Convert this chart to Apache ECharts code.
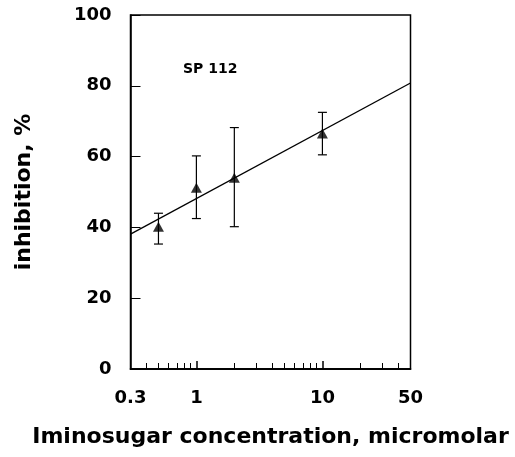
<!DOCTYPE html>
<html><head><meta charset="utf-8">
<script src="https://cdn.jsdelivr.net/npm/echarts@6/dist/echarts.min.js"></script>
<style>html,body{margin:0;padding:0;background:#fff}#c{width:515px;height:457px}</style>
</head><body><div id="c"></div>
<script>
// data
const concentrations = [0.5, 1, 2, 10];
const inhibitionMean = [40.2, 51.2, 54, 66.5];
const inhibitionLow = [35.3, 42.5, 40.2, 60.5];
const inhibitionHigh = [44, 60.2, 68.2, 72.5];
const fitLineX = [0.3, 50];
const fitLineY = [38.1, 80.8];
const xTickLabels = [0.3, 1, 10, 50];
const xMajorTicks = [1, 10];
const xMinorTicks = [0.4, 0.5, 0.6, 0.7, 0.8, 0.9, 2, 3, 4, 5, 6, 7, 8, 9, 20, 30, 40];
const annotation = 'SP 112';

const FONT = 'DejaVu Sans';
const chart = echarts.init(document.getElementById('c'), null, {renderer: 'canvas'});

const points = concentrations.map((x, i) => [x, inhibitionMean[i]]);
const errData = concentrations.map((x, i) => [x, inhibitionLow[i], inhibitionHigh[i]]);
const fitData = fitLineX.map((x, i) => [x, fitLineY[i]]);

const baseX = {
  type: 'log', logBase: 10, min: 0.3, max: 50,
  splitLine: {show: false},
  axisLine: {show: true, lineStyle: {color: '#000', width: 1.5}},
};

chart.setOption({
  animation: false,
  backgroundColor: '#fff',
  grid: {left: 130.5, right: 104.5, top: 15, bottom: 88, show: true, borderColor: '#000', borderWidth: 1.5, backgroundColor: 'transparent', containLabel: false},
  xAxis: [
    Object.assign({}, baseX, {
      name: 'Iminosugar concentration, micromolar',
      nameLocation: 'middle', nameGap: 57,
      nameTextStyle: {fontFamily: FONT, fontWeight: 'bold', fontSize: 22, color: '#000'},
      axisTick: {show: true, inside: true, length: 6, customValues: xMinorTicks, lineStyle: {color: '#000', width: 1}},
      axisLabel: {show: true, customValues: xTickLabels, margin: 20, fontFamily: FONT, fontWeight: 'bold', fontSize: 18, color: '#000',
        formatter: v => String(v)}
    }),
    Object.assign({}, baseX, {
      position: 'bottom',
      axisTick: {show: true, inside: true, length: 8, customValues: xMajorTicks, lineStyle: {color: '#000', width: 1.5}},
      axisLabel: {show: false}
    })
  ],
  yAxis: {
    type: 'value', min: 0, max: 100, interval: 20,
    name: 'inhibition, %', nameLocation: 'middle', nameGap: 95, nameRotate: 90,
    nameTextStyle: {fontFamily: FONT, fontWeight: 'bold', fontSize: 22, color: '#000'},
    splitLine: {show: false},
    axisLine: {show: true, lineStyle: {color: '#000', width: 1.5}},
    axisTick: {show: true, inside: true, length: 10, lineStyle: {color: '#000', width: 1}},
    axisLabel: {margin: 19, fontFamily: FONT, fontWeight: 'bold', fontSize: 18, color: '#000'}
  },
  series: [
    {
      type: 'line', data: fitData, symbol: 'none', silent: true,
      lineStyle: {color: '#000', width: 1.3}, z: 2
    },
    {
      type: 'custom', data: errData, z: 3,
      renderItem: function (params, api) {
        const x = api.value(0);
        const lo = api.coord([x, api.value(1)]);
        const hi = api.coord([x, api.value(2)]);
        const w = 4.5;
        const style = {stroke: '#000', lineWidth: 1.2, fill: null};
        return {type: 'group', children: [
          {type: 'line', shape: {x1: lo[0], y1: lo[1], x2: hi[0], y2: hi[1]}, style},
          {type: 'line', shape: {x1: lo[0] - w, y1: lo[1], x2: lo[0] + w, y2: lo[1]}, style},
          {type: 'line', shape: {x1: hi[0] - w, y1: hi[1], x2: hi[0] + w, y2: hi[1]}, style}
        ]};
      }
    },
    {
      type: 'scatter', data: points, symbol: 'triangle', symbolSize: [11, 10], z: 4,
      itemStyle: {color: '#000'}
    }
  ],
  graphic: [{
    type: 'text', left: 183, top: 62,
    style: {text: annotation, fontFamily: FONT, fontWeight: 'bold', fontSize: 14, fill: '#000'}
  }]
});
</script></body></html>
